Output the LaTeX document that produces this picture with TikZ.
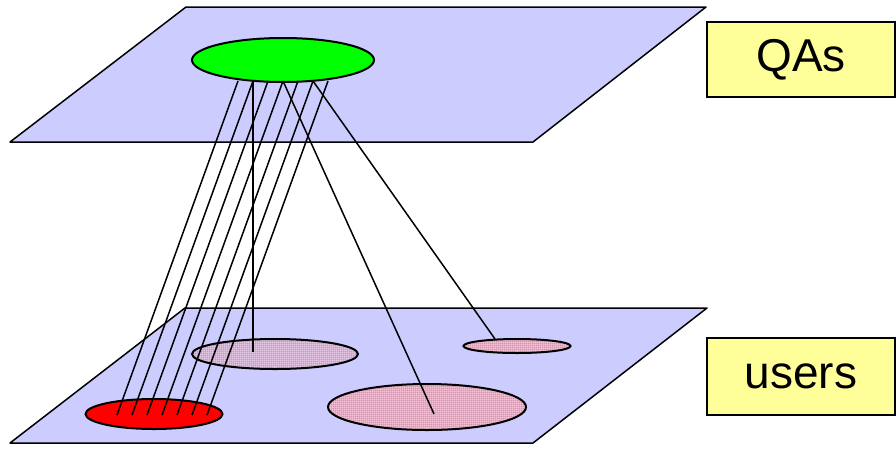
\documentclass[tikz,border=0pt]{standalone}
\usepackage{fontspec}
\setmainfont{Liberation Sans}
\usetikzlibrary{shapes.geometric,patterns}

\pgfdeclarepatternformonly{pinkgrid}{\pgfpointorigin}{\pgfpoint{2.2pt}{2.2pt}}{\pgfpoint{2.2pt}{2.2pt}}{
  \pgfsetlinewidth{0.8pt}
  \pgfpathmoveto{\pgfpoint{0pt}{1.1pt}}\pgfpathlineto{\pgfpoint{2.2pt}{1.1pt}}
  \pgfpathmoveto{\pgfpoint{1.1pt}{0pt}}\pgfpathlineto{\pgfpoint{1.1pt}{2.2pt}}
  \pgfusepath{stroke}}

\definecolor{planeblue}{RGB}{204,204,255}
\definecolor{boxyellow}{RGB}{255,255,153}

\begin{document}
\begin{tikzpicture}[x=1pt,y=-1pt,
    plane/.style={draw,line width=1.5pt,fill=planeblue,line join=round},
    group/.style={ellipse,draw,line width=2pt,inner sep=0pt},
    usergroup/.style={group,preaction={fill=planeblue!70!white},pattern=pinkgrid,pattern color=red!50!pink},
    label/.style={draw,line width=1.5pt,fill=boxyellow,minimum width=188pt,font=\fontsize{46}{50}\selectfont},
    link/.style={line width=1.5pt}]
\useasboundingbox (0,0) rectangle (896,448);
% the two layers
\draw[plane] (186,7) -- (706,7) -- (533,142) -- (10,142) -- cycle;
\draw[plane] (185,308) -- (707,308) -- (533,443) -- (10,443) -- cycle;
% QA node and user groups
\node[group,fill=green,minimum width=182pt,minimum height=44pt] (qa) at (283,60) {};
\node[group,fill=red,minimum width=137pt,minimum height=30pt] (u1) at (154,414) {};
\node[usergroup,minimum width=166pt,minimum height=30pt] (u2) at (275,354) {};
\node[usergroup,minimum width=198pt,minimum height=46pt] (u3) at (427,407) {};
\node[usergroup,minimum width=107pt,minimum height=14pt] (u4) at (517,346) {};
% labels
\node[label,minimum height=75pt] (qas) at (801,59.5) {QAs};
\node[label,minimum height=77pt] (users) at (801,376.5) {users};
% links
\foreach \i in {0,...,6} {
  \coordinate (t\i) at (238+15*\i,81);
  \coordinate (b\i) at (117+15*\i,415);
  \draw[link] (t\i) -- (b\i);
}
\coordinate (e2) at (253,352);
\coordinate (e3) at (434,414);
\coordinate (e4) at (495,339);
\draw[link] (t1) -- (e2);
\draw[link] (t3) -- (e3);
\draw[link] (t5) -- (e4);
\end{tikzpicture}
\end{document}
